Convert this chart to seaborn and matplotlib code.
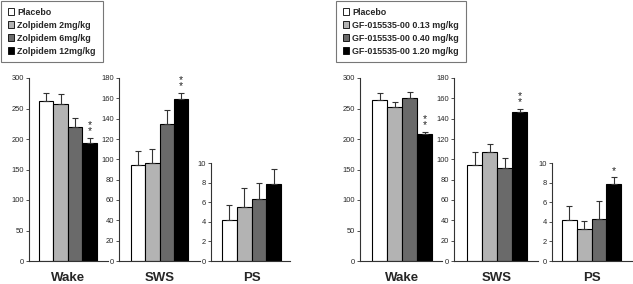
import matplotlib
matplotlib.use("Agg")
import matplotlib.pyplot as plt
from matplotlib.patches import Patch
import pandas as pd
import seaborn as sns

# ---- data ----
COLORS = ["#ffffff", "#b3b3b3", "#6a6a6a", "#000000"]

zolpidem_labels = ["Placebo", "Zolpidem 2mg/kg", "Zolpidem 6mg/kg", "Zolpidem 12mg/kg"]
zolpidem_wake = [263, 258, 220, 194]
zolpidem_wake_err = [12, 15, 14, 7]
zolpidem_sws = [94, 96, 135, 159]
zolpidem_sws_err = [14, 14, 14, 6]
zolpidem_ps = [4.2, 5.5, 6.3, 7.9]
zolpidem_ps_err = [1.5, 2.0, 1.7, 1.5]
zolpidem_stars = {"Wake": "*\n*", "SWS": "*\n*", "PS": ""}

gf_labels = ["Placebo", "GF-015535-00 0.13 mg/kg", "GF-015535-00 0.40 mg/kg",
             "GF-015535-00 1.20 mg/kg"]
gf_wake = [264, 252, 267, 209]
gf_wake_err = [12, 8, 10, 3]
gf_sws = [94, 107, 91, 147]
gf_sws_err = [13, 8, 10, 3]
gf_ps = [4.2, 3.3, 4.3, 7.85]
gf_ps_err = [1.4, 0.75, 1.8, 0.75]
gf_stars = {"Wake": "*\n*", "SWS": "*\n*", "PS": "*"}

states = ["Wake", "SWS", "PS"]
y_max = {"Wake": 300, "SWS": 180, "PS": 10}
y_step = {"Wake": 50, "SWS": 20, "PS": 2}

W, H = 633, 284
FAMILY = ["Liberation Sans", "DejaVu Sans"]

sns.set_style("ticks")
plt.rcParams["font.family"] = FAMILY


def place_axes(fig, ax_px, bar_px, top_px, bottom_px=261):
    """Create axes from pixel box; xlim so that the 4 bars span bar_px."""
    x0, x1 = ax_px
    ax = fig.add_axes([x0 / W, 1 - bottom_px / H, (x1 - x0) / W, (bottom_px - top_px) / H])
    b0, b1 = bar_px
    unit = (b1 - b0) / 4.0
    return ax, (-0.5 - (b0 - x0) / unit, 3.5 + (x1 - b1) / unit)


def draw_panel(ax, xlim, state, values, errs, star):
    df = pd.DataFrame({"dose": list(range(4)), "value": values})
    sns.barplot(data=df, x="dose", y="value", hue="dose", palette=COLORS,
                width=1.0, edgecolor="black", linewidth=0.8, errorbar=None,
                legend=False, ax=ax)
    ax.errorbar(range(4), values, yerr=[[0] * 4, errs], fmt="none",
                ecolor="#333333", elinewidth=0.8, capsize=2.4, capthick=0.8)
    top = y_max[state]
    ax.set_ylim(0, top)
    ax.set_xlim(*xlim)
    ax.set_yticks(range(0, top + 1, y_step[state]))
    ax.set_xticks([])
    ax.set_xlabel("")
    ax.set_ylabel("")
    ax.tick_params(axis="y", labelsize=5.4, length=2.2, width=0.6, pad=1.5,
                   color="#333333")
    for s in ["top", "right"]:
        ax.spines[s].set_visible(False)
    for s in ["left", "bottom"]:
        ax.spines[s].set_color("#333333")
        ax.spines[s].set_linewidth(0.8)
    if star:
        ax.text(3, values[3] + errs[3] + top * 0.01, star, ha="center",
                va="bottom", fontsize=7.5, linespacing=0.5, color="#222222")
    # category label just under the axis, centred on the bars
    ax.annotate(state, xy=(1.5, 0), xycoords="data", xytext=(0, -8),
                textcoords="offset points", ha="center", va="top",
                fontsize=9.5, fontweight="bold")


fig = plt.figure(figsize=(W / 100, H / 100), dpi=100)

groups = [
    (zolpidem_labels, [zolpidem_wake, zolpidem_sws, zolpidem_ps],
     [zolpidem_wake_err, zolpidem_sws_err, zolpidem_ps_err], zolpidem_stars,
     [((29, 108), (39, 97)), ((119, 200), (131, 188)), ((211, 290), (222, 281))],
     (1, 1)),
    (gf_labels, [gf_wake, gf_sws, gf_ps],
     [gf_wake_err, gf_sws_err, gf_ps_err], gf_stars,
     [((360, 442), (372, 432)), ((454, 538), (467, 527)), ((552, 632), (562, 621))],
     (336, 1)),
]

for labels, vals, errs, stars, boxes, legend_px in groups:
    for state, v, e, (ax_px, bar_px) in zip(states, vals, errs, boxes):
        top_px = 163 if state == "PS" else 78
        ax, xlim = place_axes(fig, ax_px, bar_px, top_px)
        draw_panel(ax, xlim, state, v, e, stars[state])

    handles = [Patch(facecolor=c, edgecolor="black", linewidth=0.6) for c in COLORS]
    leg = fig.legend(handles, labels, loc="upper left",
                     bbox_to_anchor=(legend_px[0] / W, 1 - legend_px[1] / H),
                     bbox_transform=fig.transFigure, borderaxespad=0,
                     prop={"family": FAMILY, "weight": "bold", "size": 6.4},
                     handlelength=0.75, handleheight=0.75, handletextpad=0.35,
                     labelspacing=0.45, borderpad=0.75, fancybox=False,
                     frameon=True, edgecolor="#555555")
    leg.get_frame().set_linewidth(0.8)

fig.savefig("out.png", dpi=100)
